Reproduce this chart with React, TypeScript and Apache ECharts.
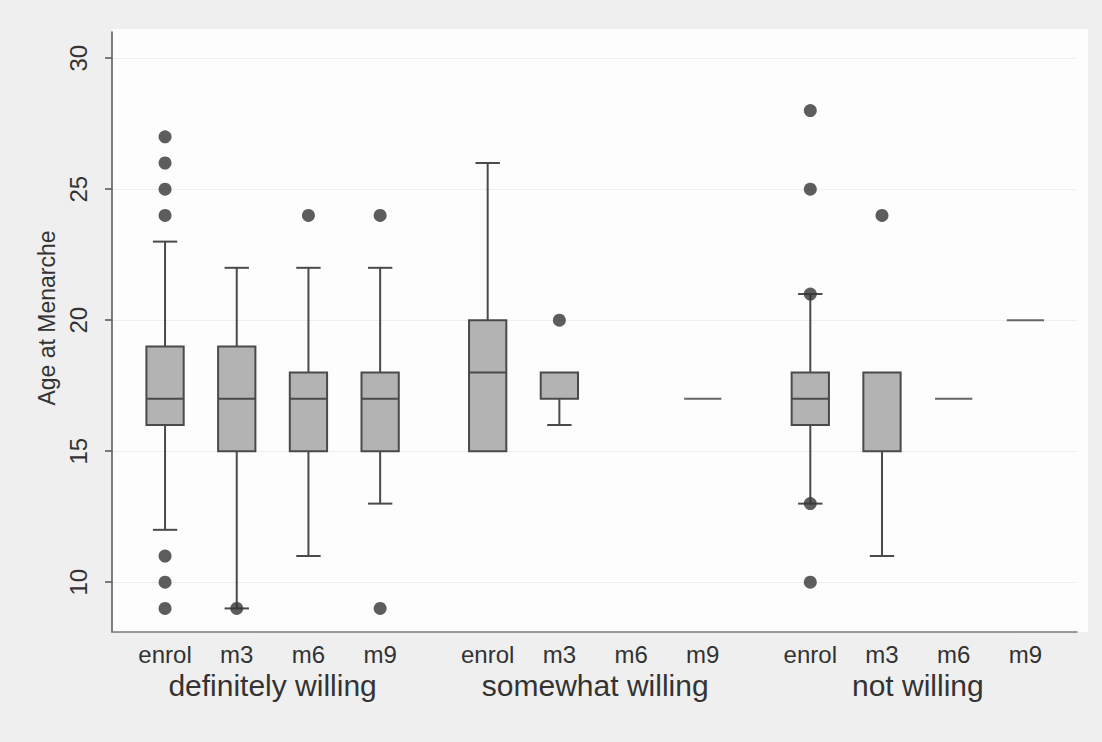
import React, { useEffect, useRef } from "react";
import * as echarts from "echarts";

const subLabels = ["enrol", "m3", "m6", "m9"];
const groupLabels = ["definitely willing", "somewhat willing", "not willing"];
const groupCenters = [1.5, 6, 10.5];
const positions = [0, 1, 2, 3, 4.5, 5.5, 6.5, 7.5, 9, 10, 11, 12];

// per box: lower adjacent, q1, median, q3, upper adjacent (null = no data)
const lowWhisker = [12, 9, 11, 13, 15, 16, null, 17, 13, 11, 17, 20];
const quart1 = [16, 15, 15, 15, 15, 17, null, 17, 16, 15, 17, 20];
const medians = [17, 17, 17, 17, 18, 17, null, 17, 17, 18, 17, 20];
const quart3 = [19, 19, 18, 18, 20, 18, null, 17, 18, 18, 17, 20];
const highWhisker = [23, 22, 22, 22, 26, 18, null, 17, 21, 18, 17, 20];

// outside values: box index and value
const outlierBox = [0, 0, 0, 0, 0, 0, 0, 1, 2, 3, 3, 5, 8, 8, 8, 8, 8, 9];
const outlierValue = [27, 26, 25, 24, 11, 10, 9, 9, 24, 24, 9, 20, 28, 25, 21, 13, 10, 24];

const yTicks = [10, 15, 20, 25, 30];

export default function App() {
  const ref = useRef<HTMLDivElement>(null);
  useEffect(() => {
    if (!ref.current) return;
    const chart = echarts.init(ref.current, null, { renderer: "svg" });

    const boxData: any[] = [];
    positions.forEach((p, i) => {
      if (medians[i] == null) return;
      boxData.push([p, lowWhisker[i], quart1[i], medians[i], quart3[i], highWhisker[i]]);
    });
    const outData = outlierBox.map((b, i) => [positions[b], outlierValue[i]]);

    const tickLabelFor = (v: number) => {
      const idx = positions.findIndex((p) => Math.abs(p - v) < 1e-6);
      return idx >= 0 ? subLabels[idx % 4] : "";
    };
    const groupLabelFor = (v: number) => {
      const idx = groupCenters.findIndex((p) => Math.abs(p - v) < 1e-6);
      return idx >= 0 ? groupLabels[idx] : "";
    };

    const stroke = "#4a4a4a";
    const textColor = "#333333";

    const renderItem = (params: any, api: any) => {
      const x = api.value(0);
      const lo = api.value(1);
      const q1 = api.value(2);
      const med = api.value(3);
      const q3 = api.value(4);
      const hi = api.value(5);
      const unit = api.size([1, 0])[0];
      const bw = unit * 0.52;
      const cw = unit * 0.34;
      const pLo = api.coord([x, lo]);
      const pQ1 = api.coord([x, q1]);
      const pMed = api.coord([x, med]);
      const pQ3 = api.coord([x, q3]);
      const pHi = api.coord([x, hi]);
      const cx = pQ1[0];
      const ls = { stroke, lineWidth: 2 };
      const children: any[] = [];
      if (hi > q3) {
        children.push({ type: "line", shape: { x1: cx, y1: pQ3[1], x2: cx, y2: pHi[1] }, style: ls });
        children.push({ type: "line", shape: { x1: cx - cw / 2, y1: pHi[1], x2: cx + cw / 2, y2: pHi[1] }, style: ls });
      }
      if (lo < q1) {
        children.push({ type: "line", shape: { x1: cx, y1: pQ1[1], x2: cx, y2: pLo[1] }, style: ls });
        children.push({ type: "line", shape: { x1: cx - cw / 2, y1: pLo[1], x2: cx + cw / 2, y2: pLo[1] }, style: ls });
      }
      if (q3 > q1) {
        children.push({
          type: "rect",
          shape: { x: cx - bw / 2, y: pQ3[1], width: bw, height: pQ1[1] - pQ3[1] },
          style: { fill: "#b3b3b3", stroke, lineWidth: 2 },
        });
        if (med > q1 && med < q3) {
          children.push({ type: "line", shape: { x1: cx - bw / 2, y1: pMed[1], x2: cx + bw / 2, y2: pMed[1] }, style: ls });
        }
      } else {
        children.push({
          type: "line",
          shape: { x1: cx - bw / 2, y1: pMed[1], x2: cx + bw / 2, y2: pMed[1] },
          style: { stroke: "#666666", lineWidth: 2 },
        });
      }
      return { type: "group", children };
    };

    const font = "Liberation Sans, Arial, sans-serif";

    chart.setOption({
      animation: false,
      backgroundColor: "#efefef",
      textStyle: { fontFamily: font },
      graphic: [
        {
          type: "rect",
          z: -10,
          silent: true,
          shape: { x: 112, y: 29, width: 976, height: 603 },
          style: { fill: "#fdfdfd" },
        },
      ],
      grid: { left: 112, right: 25, top: 32, bottom: 110 },
      xAxis: [
        {
          type: "value",
          min: -0.74,
          max: 12.72,
          axisLine: { show: true, onZero: false, lineStyle: { color: "#7a7a7a", width: 1.5 } },
          axisTick: { show: false },
          splitLine: { show: false },
          axisLabel: {
            customValues: positions,
            formatter: (v: number) => tickLabelFor(v),
            fontSize: 24,
            color: textColor,
            fontFamily: font,
            margin: 10,
          },
        },
        {
          type: "value",
          position: "bottom",
          min: -0.74,
          max: 12.72,
          axisLine: { show: false, onZero: false },
          axisTick: { show: false },
          splitLine: { show: false },
          axisLabel: {
            customValues: groupCenters,
            formatter: (v: number) => groupLabelFor(v),
            fontSize: 30,
            color: textColor,
            fontFamily: font,
            margin: 38,
          },
        },
      ],
      yAxis: {
        type: "value",
        min: 8.1,
        max: 31,
        name: "Age at Menarche",
        nameLocation: "middle",
        nameRotate: 90,
        nameGap: 52,
        nameTextStyle: { fontSize: 23, color: textColor, fontFamily: font, padding: [0, 0, 0, 28] },
        axisLine: { show: true, onZero: false, lineStyle: { color: "#555555", width: 1.5 } },
        axisTick: { show: true, length: 7, customValues: yTicks, lineStyle: { color: "#555555", width: 1.5 } },
        splitLine: { show: true, lineStyle: { color: "#efefef", width: 1 } },
        axisLabel: {
          customValues: yTicks,
          rotate: 90,
          fontSize: 24,
          color: textColor,
          fontFamily: font,
          margin: 22,
        },
      },
      series: [
        {
          type: "custom",
          xAxisIndex: 0,
          renderItem,
          encode: { x: 0, y: [1, 2, 3, 4, 5] },
          data: boxData,
          z: 2,
        },
        {
          type: "scatter",
          xAxisIndex: 0,
          data: outData,
          symbol: "circle",
          symbolSize: 13,
          itemStyle: { color: "#353535" },
          z: 3,
        },
      ],
    });
    return () => chart.dispose();
  }, []);
  return (
    <div
      ref={ref}
      style={{ position: "fixed", left: 0, top: 0, width: 1102, height: 742 }}
    />
  );
}
